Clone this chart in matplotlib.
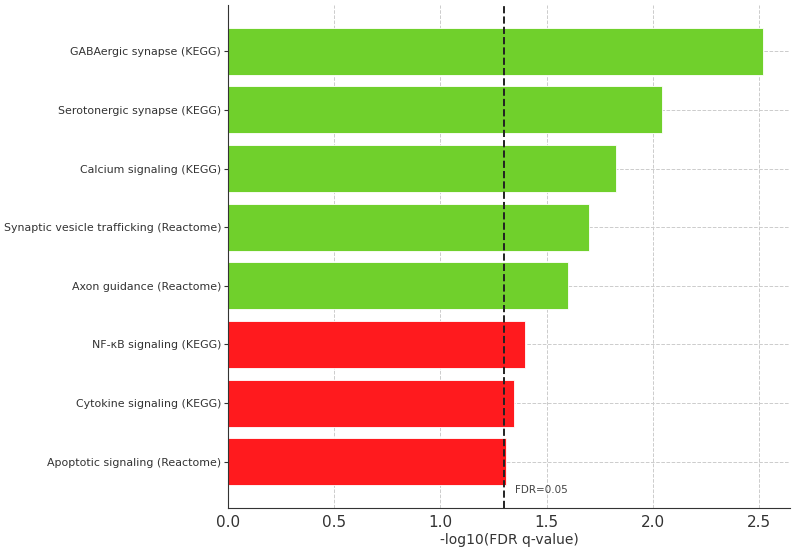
import matplotlib
matplotlib.use("Agg")
import matplotlib.pyplot as plt
import numpy as np

pathways = [
    "GABAergic synapse (KEGG)",
    "Serotonergic synapse (KEGG)",
    "Calcium signaling (KEGG)",
    "Synaptic vesicle trafficking (Reactome)",
    "Axon guidance (Reactome)",
    "NF-κB signaling (KEGG)",
    "Cytokine signaling (KEGG)",
    "Apoptotic signaling (Reactome)",
]
neglog_q = [2.52, 2.045, 1.825, 1.70, 1.60, 1.397, 1.347, 1.307]
groups = ["up", "up", "up", "up", "up", "down", "down", "down"]
threshold = -np.log10(0.05)

color_map = {"up": "#70d02c", "down": "#ff1a1e"}
colors = [color_map[g] for g in groups]

plt.rcParams['font.family'] = ['DejaVu Sans']
fig = plt.figure(figsize=(7.97, 5.54), dpi=100)
ax = fig.add_axes([228/797, 46/554, 562/797, 503/554])

y = np.arange(len(pathways))
ax.barh(y, neglog_q, height=0.8, color=colors, edgecolor="white", linewidth=0.6, zorder=2)
ax.invert_yaxis()
ax.set_yticks(y)
ax.set_yticklabels(pathways, fontsize=7.9, color="#333333")
ax.tick_params(axis="x", labelsize=11, colors="#333333", length=0, pad=5)
ax.tick_params(axis="y", length=3, colors="#333333", pad=2)
ax.set_xticks([0.0, 0.5, 1.0, 1.5, 2.0, 2.5])

ax.axvline(threshold, color="#222222", linestyle="--", linewidth=1.4, zorder=3)
ax.text(threshold + 0.05, 0.035, "FDR=0.05", transform=ax.get_xaxis_transform(),
        fontsize=7.5, color="#444444", va="center", ha="left")

ax.grid(True, linestyle="--", color="#cccccc", linewidth=0.7, zorder=0)
ax.set_axisbelow(True)
ax.spines["top"].set_visible(False)
ax.spines["right"].set_visible(False)
ax.spines["left"].set_color("#333333")
ax.spines["bottom"].set_color("#333333")
ax.set_xlabel("-log10(FDR q-value)", fontsize=10, color="#333333", labelpad=2.5)

fig.savefig("out.png", dpi=100)
